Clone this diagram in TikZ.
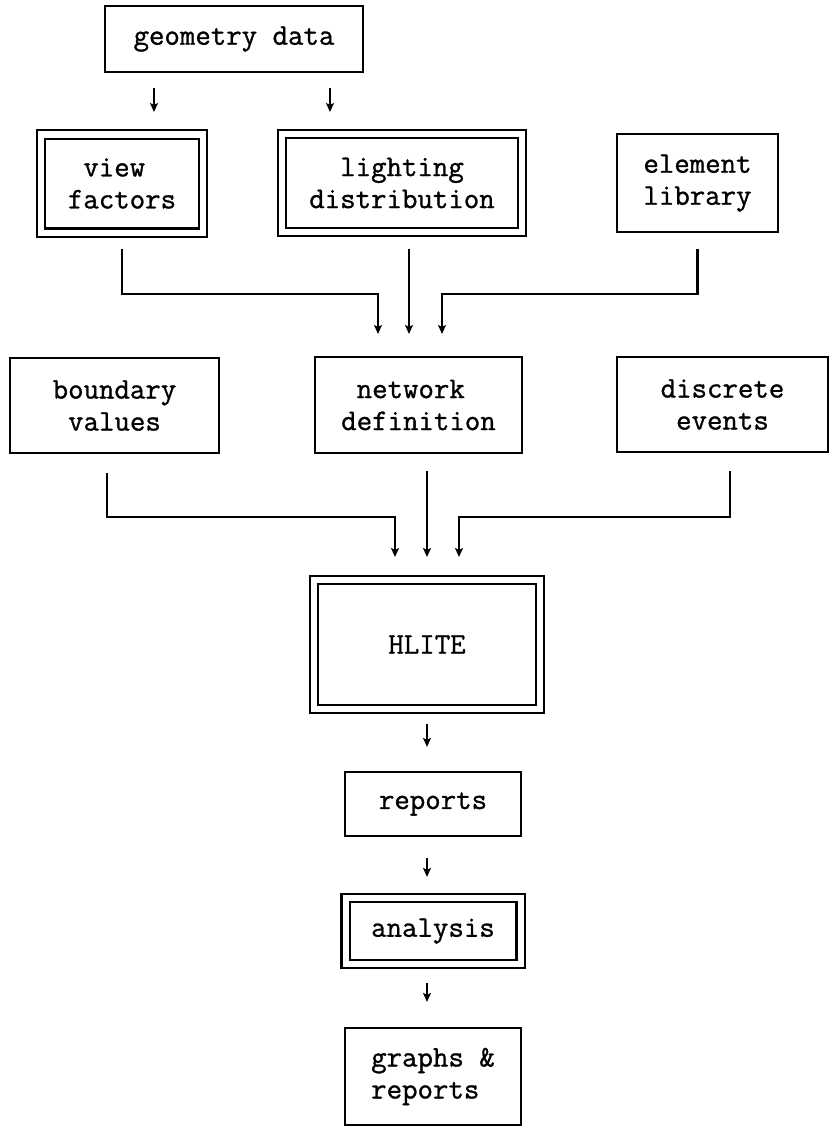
\documentclass[tikz,border=0pt]{standalone}
\usepackage{fontspec}
\newfontfamily\twfont{Latin Modern Mono}[FakeBold=1]
\usetikzlibrary{arrows.meta}
\begin{document}
\begin{tikzpicture}[x=1pt,y=-1pt,
  box/.style={draw, line width=2.2, inner sep=0, align=center,
    font=\twfont\bfseries\fontsize{30}{32}\selectfont},
  dbox/.style={box, double, double distance=6},
  conn/.style={line width=2.2},
  arr/.style={conn, -{Stealth[length=9,width=8,inset=2]}}]
\useasboundingbox[fill=white] (0,0) rectangle (830,1129);

% nodes
\node[box, minimum width=258, minimum height=66] (geo) at (234,39) {geometry data};
\node[dbox, minimum width=162, minimum height=98] (vf) at (122,183.5) {view\hphantom{x}\\factors};
\node[dbox, minimum width=240, minimum height=98] (ld) at (402,183) {lighting\\distribution};
\node[box, minimum width=161, minimum height=98] (el) at (697.5,183) {element\\library};
\node[box, minimum width=209, minimum height=95] (bv) at (114.5,405.5) {boundary\\values};
\node[box, minimum width=207, minimum height=96] (nd) at (418.5,405) {network\hphantom{x}\\definition};
\node[box, minimum width=211, minimum height=95] (de) at (722.5,404.5) {discrete\\events};
\node[dbox, minimum width=226, minimum height=129] (hl) at (427,644.5) {HLITE};
\node[box, minimum width=176, minimum height=64] (rp) at (433,804) {reports};
\node[dbox, minimum width=175, minimum height=66] (an) at (433,931) {analysis};
\node[box, minimum width=176, minimum height=97] (gr) at (433,1076.5) {graphs \&\\reports\hphantom{x}};

% free ends and bends
\coordinate (g1) at (154,112);
\coordinate (g2) at (330,112);
\coordinate (j1) at (378,294);
\coordinate (j3) at (442,294);
\coordinate (t1) at (378,334);
\coordinate (t2) at (409,334);
\coordinate (t3) at (442,334);
\coordinate (k1) at (395,517);
\coordinate (k3) at (459,517);
\coordinate (u1) at (395,557);
\coordinate (u2) at (427,557);
\coordinate (u3) at (459,557);

% connectors
\draw[arr, shorten <=15] (geo.south -| g1) -- (g1);
\draw[arr, shorten <=15] (geo.south -| g2) -- (g2);

\draw[arr, shorten <=15.5] (vf.south) |- (j1) -- (t1);
\draw[arr, shorten <=16] (ld.south -| t2) -- (t2);
\draw[arr, shorten <=16] (el.south) |- (j3) -- (t3);

\draw[arr, shorten <=19] ([xshift=-7.5]bv.south) |- (k1) -- (u1);
\draw[arr, shorten <=17] (nd.south -| u2) -- (u2);
\draw[arr, shorten <=18] ([xshift=7.5]de.south) |- (k3) -- (u3);

\draw[arr, shorten <=14, shorten >=24] (hl.south) -- (hl.south |- rp.north);
\draw[arr, shorten <=21, shorten >=20] (rp.south -| hl.south) -- (an.north -| hl.south);
\draw[arr, shorten <=18, shorten >=25] (an.south -| hl.south) -- (gr.north -| hl.south);
\end{tikzpicture}
\end{document}
